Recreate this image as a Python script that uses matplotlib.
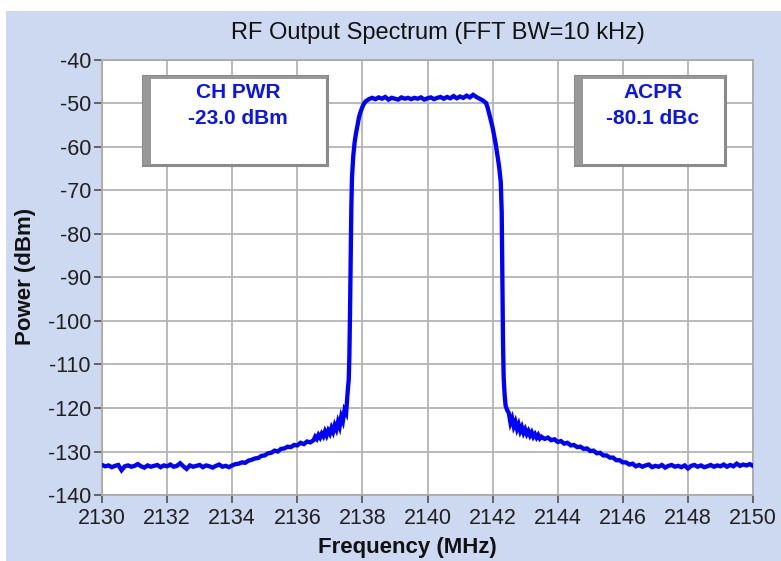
import numpy as np
import matplotlib
matplotlib.use("Agg")
import matplotlib.pyplot as plt
from matplotlib.patches import Rectangle

plt.rcParams['font.family'] = ['Liberation Sans', 'DejaVu Sans']
plt.rcParams['axes.unicode_minus'] = False

# ---------------- data ----------------
# lower noise floor 2130.0 .. 2134.0 (0.1 MHz grid)
freq_floor_lo = np.round(np.arange(2130.0, 2134.05, 0.1), 2)
pwr_floor_lo = [
    -133.1, -133.4, -133.2, -133.6, -133.3, -133.1, -134.3, -133.4, -133.2, -133.5,
    -133.3, -132.9, -133.4, -133.7, -133.2, -133.5, -133.3, -133.1, -133.6, -133.2,
    -133.4, -133.0, -133.5, -133.3, -132.7, -133.4, -134.0, -133.2, -133.5, -133.3,
    -133.1, -133.6, -133.2, -133.4, -133.7, -133.3, -133.0, -133.5, -133.3, -133.6,
    -133.2,
]
# lower shoulder 2134.1 .. 2136.4
freq_shoulder_lo = np.round(np.arange(2134.1, 2136.45, 0.1), 2)
pwr_shoulder_lo = [
    -132.9, -132.8, -132.5, -132.6, -132.1, -131.9, -131.6, -131.5, -131.0, -130.9,
    -130.4, -130.3, -129.8, -130.0, -129.4, -129.3, -128.9, -129.0, -128.5, -128.6,
    -128.0, -128.3, -127.7, -127.9,
]
# lower skirt (noisier) 2136.5 .. 2137.5
freq_skirt_lo = [2136.50, 2136.55, 2136.60, 2136.65, 2136.70, 2136.75, 2136.80, 2136.85,
                 2136.90, 2136.95, 2137.00, 2137.05, 2137.10, 2137.15, 2137.20, 2137.25,
                 2137.30, 2137.35, 2137.40, 2137.45, 2137.50]
pwr_skirt_lo = [-127.4, -126.6, -127.1, -126.2, -126.8, -125.9, -126.5, -125.4,
                -126.3, -125.2, -125.9, -124.6, -125.5, -124.0, -124.9, -123.2,
                -124.3, -122.0, -123.0, -120.5, -121.2]
# lower channel edge
freq_edge_lo = [2137.55, 2137.58, 2137.60, 2137.62, 2137.64, 2137.66,
                2137.68, 2137.72, 2137.76, 2137.80, 2137.85, 2137.90, 2137.95, 2138.00,
                2138.05, 2138.10, 2138.20]
pwr_edge_lo = [-116.0, -113.5, -108.0, -98.0, -85.0, -74.0,
               -67.0, -62.0, -59.0, -57.0, -55.0, -53.0, -51.8, -50.8,
               -50.0, -49.5, -49.0]
# channel top 2138.3 .. 2141.7
freq_top = np.round(np.arange(2138.3, 2141.75, 0.1), 2)
pwr_top = [
    -48.7, -49.0, -48.6, -48.9, -48.5, -49.1, -48.7, -48.9, -49.1, -48.6,
    -48.9, -48.7, -49.0, -48.7, -48.9, -48.6, -49.1, -48.8, -48.6, -49.0,
    -48.7, -48.5, -48.9, -48.5, -48.8, -48.3, -48.8, -48.4, -48.7, -48.2,
    -48.6, -48.0, -48.5, -48.9, -49.3,
]
# upper channel edge
freq_edge_hi = [2141.80, 2141.85, 2141.90, 2141.95, 2142.00, 2142.05, 2142.10, 2142.15,
                2142.20, 2142.25, 2142.28, 2142.30, 2142.32, 2142.34, 2142.37, 2142.40,
                2142.45]
pwr_edge_hi = [-49.9, -51.0, -52.5, -54.0, -55.5, -57.5, -59.5, -62.0,
               -64.5, -68.0, -75.0, -90.0, -105.0, -113.0, -117.0, -119.5,
               -120.5]
# upper skirt (noisier) 2142.50 .. 2143.45
freq_skirt_hi = [2142.50, 2142.55, 2142.60, 2142.65, 2142.70, 2142.75, 2142.80, 2142.85,
                 2142.90, 2142.95, 2143.00, 2143.05, 2143.10, 2143.15, 2143.20, 2143.25,
                 2143.30, 2143.35, 2143.40, 2143.45]
pwr_skirt_hi = [-121.2, -123.4, -122.4, -124.2, -123.2, -124.8, -123.8, -125.3,
                -124.4, -125.7, -124.9, -126.0, -125.3, -126.3, -125.6, -126.6,
                -126.0, -126.8, -126.2, -127.0]
# upper shoulder and floor 2143.5 .. 2150.0
freq_tail_hi = np.round(np.arange(2143.5, 2150.05, 0.1), 2)
pwr_tail_hi = [
    -126.6, -127.1, -126.8, -127.4, -127.2, -127.8, -127.6, -128.2, -128.0, -128.6,
    -128.5, -129.0, -128.9, -129.4, -129.3, -129.9, -129.8, -130.4, -130.3, -130.9,
    -130.9, -131.4, -131.4, -132.0, -132.0, -132.5, -132.5, -133.0, -132.8, -133.4,
    -133.1, -133.5, -133.2, -133.0, -133.6, -133.3, -133.5, -133.1, -133.7, -133.3,
    -133.1, -133.5, -133.3, -133.6, -133.2, -133.9, -133.3, -133.1, -133.5, -133.2,
    -133.6, -133.4, -133.1, -133.5, -133.2, -133.4, -133.0, -133.5, -133.1, -133.4,
    -132.8, -133.3, -133.0, -133.2, -132.9, -133.3,
]

freq = np.concatenate([freq_floor_lo, freq_shoulder_lo, freq_skirt_lo, freq_edge_lo,
                       freq_top, freq_edge_hi, freq_skirt_hi, freq_tail_hi])
power = np.concatenate([pwr_floor_lo, pwr_shoulder_lo, pwr_skirt_lo, pwr_edge_lo,
                        pwr_top, pwr_edge_hi, pwr_skirt_hi, pwr_tail_hi])

x_ticks = [2130, 2132, 2134, 2136, 2138, 2140, 2142, 2144, 2146, 2148, 2150]
y_ticks = [-140, -130, -120, -110, -100, -90, -80, -70, -60, -50, -40]

title = "RF Output Spectrum (FFT BW=10 kHz)"
box_left = ["CH PWR", "-23.0 dBm"]
box_right = ["ACPR", "-80.1 dBc"]

# ---------------- figure ----------------
W, H = 781, 561
fig = plt.figure(figsize=(W / 100, H / 100), dpi=100)
fig.patch.set_facecolor("white")
bg = "#CDD9F1"
fig.patches.append(Rectangle((6 / W, 0), 775 / W, 550 / H, transform=fig.transFigure,
                             facecolor=bg, edgecolor="none", zorder=-10))

ax = fig.add_axes([102 / W, (H - 495) / H, 651 / W, 435 / H])
ax.set_zorder(5)
ax.set_facecolor("white")
ax.plot(freq, power, color="#0000FF", lw=3.1, zorder=3, solid_joinstyle="miter")

ax.set_xlim(2130, 2150)
ax.set_ylim(-140, -40)
ax.set_xticks(x_ticks)
ax.set_yticks(y_ticks)
ax.grid(True, color="#B4B4B4", lw=1.3, zorder=1)
ax.set_axisbelow(True)
for s in ax.spines.values():
    s.set_color("#A8A8A8")
    s.set_linewidth(1.2)
ax.tick_params(axis="both", direction="out", length=6, width=1.2, color="#505050",
               labelsize=15.5, labelcolor="#202020", pad=2)
ax.tick_params(axis="x", pad=3)

fig.text(438 / W, 1 - 33 / H, title, fontsize=17, ha="center", va="center",
         color="#111111")
fig.text(407 / W, 1 - 547 / H, "Frequency (MHz)", fontsize=16, fontweight="bold",
         ha="center", va="center", color="#111111")
fig.text(25 / W, 1 - 276 / H, "Power (dBm)", fontsize=16, fontweight="bold",
         ha="center", va="center", rotation=90, color="#111111")


def info_box(x0, y0, w, h, lines):
    # x0, y0, w, h in axes fraction
    ax.add_patch(Rectangle((x0, y0), w, h, transform=ax.transAxes, facecolor="white",
                           edgecolor="#8A8A8A", lw=2.2, zorder=5))
    ax.add_patch(Rectangle((x0, y0), 8 / 651, h, transform=ax.transAxes,
                           facecolor="#989898", edgecolor="none", zorder=6))
    ax.add_patch(Rectangle((x0, y0 + h - 3 / 435), w, 3 / 435, transform=ax.transAxes,
                           facecolor="#989898", edgecolor="none", zorder=6))
    cx = x0 + w / 2 + 3 / 651
    ax.text(cx, y0 + h - 16 / 435, lines[0], transform=ax.transAxes, ha="center",
            va="center", fontsize=15, fontweight="bold", color="#0A14F0", zorder=7)
    ax.text(cx, y0 + h - 43 / 435, lines[1], transform=ax.transAxes, ha="center",
            va="center", fontsize=15, fontweight="bold", color="#0A14F0", zorder=7)


info_box((143 - 102) / 651, (495 - 165) / 435, 184 / 651, 89 / 435, box_left)
info_box((575 - 102) / 651, (495 - 165) / 435, 150 / 651, 89 / 435, box_right)

fig.savefig("out.png", dpi=100, facecolor=fig.get_facecolor())
